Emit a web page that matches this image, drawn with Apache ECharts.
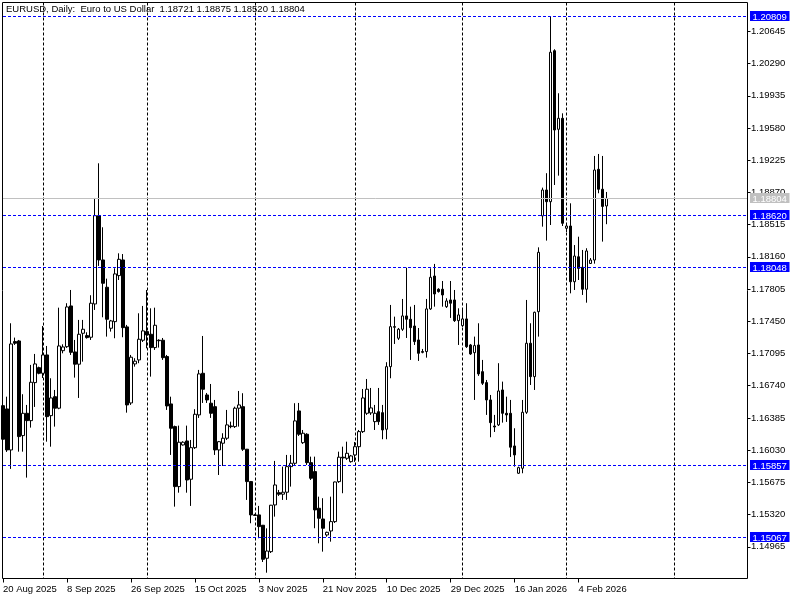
<!DOCTYPE html>
<html><head><meta charset="utf-8">
<script src="https://cdn.jsdelivr.net/npm/echarts@6/dist/echarts.min.js"></script>
<style>html,body{margin:0;padding:0;background:#fff;}#c{width:800px;height:600px;}</style>
</head><body><div id="c"></div>
<script>
const symbolTitle = 'EURUSD, Daily:  Euro to US Dollar';
const firstBarDate = '2025-08-20';
const futureBars = 35;

const opens = [1.16520,1.16484,1.16032,1.17226,1.17233,1.16190,1.16436,1.16355,1.16774,1.16939,
1.16877,1.17079,1.16410,1.16619,1.16492,1.17126,1.17170,1.17619,1.17112,1.16977,
1.17318,1.17292,1.17274,1.17641,1.18614,1.18126,1.17825,1.17373,1.17446,1.17953,
1.18126,1.17388,1.16550,1.16980,1.17024,1.17241,1.17336,1.17307,1.17160,1.17241,
1.17241,1.17061,1.16539,1.16289,1.15628,1.16087,1.16131,1.15709,1.16057,1.16418,
1.16877,1.16638,1.16547,1.16509,1.16032,1.16106,1.16161,1.16296,1.16289,1.16492,
1.16509,1.16040,1.15683,1.15316,1.15316,1.15202,1.14838,1.14911,1.15426,1.15561,
1.15544,1.15566,1.15848,1.15885,1.16462,1.16112,1.16205,1.15892,1.15793,1.15389,
1.15271,1.15095,1.15139,1.15242,1.15683,1.15952,1.15940,1.15903,1.15977,1.16068,
1.16234,1.16436,1.16440,1.16344,1.16454,1.16443,1.16260,1.16950,1.17391,1.17263,
1.17362,1.17509,1.17472,1.17398,1.17244,1.17116,1.17116,1.17586,1.17949,1.17803,
1.17803,1.17611,1.17685,1.17685,1.17457,1.17402,1.17476,1.17189,1.17104,1.17189,
1.16895,1.16774,1.16583,1.16296,1.16308,1.16693,1.16436,1.16436,1.16076,1.15775,
1.15830,1.16447,1.17208,1.16840,1.17556,1.18611,1.18897,1.18768,1.20432,1.19566,
1.19687,1.18475,1.18500,1.17886,1.18161,1.18045,1.17803,1.18087,1.18125,1.19125,
1.18905,1.18721];

const highs = [1.16610,1.16619,1.17428,1.17270,1.17244,1.16646,1.16528,1.16969,1.17090,1.16950,
1.17398,1.17178,1.16822,1.16693,1.17600,1.17196,1.17649,1.17795,1.17244,1.17465,
1.17465,1.17329,1.17737,1.18809,1.19191,1.18486,1.17920,1.17465,1.18034,1.18199,
1.18191,1.17410,1.17079,1.17043,1.17538,1.17619,1.17795,1.17593,1.17600,1.17252,
1.17266,1.17079,1.16619,1.16300,1.16300,1.16128,1.16300,1.16142,1.16481,1.16914,
1.17288,1.16660,1.16759,1.16583,1.16131,1.16216,1.16473,1.16344,1.16509,1.16682,
1.16657,1.16043,1.15690,1.15327,1.15415,1.15205,1.15168,1.15426,1.15911,1.15591,
1.15848,1.15977,1.15977,1.16547,1.16550,1.16252,1.16216,1.15958,1.15958,1.15517,
1.15500,1.15131,1.15517,1.15683,1.16013,1.16068,1.16123,1.15977,1.16120,1.16252,
1.16704,1.16814,1.16715,1.16528,1.16715,1.16528,1.16999,1.17630,1.17501,1.17376,
1.17696,1.18041,1.17611,1.17630,1.17376,1.17145,1.17696,1.18034,1.18082,1.17814,
1.17894,1.17704,1.17894,1.17795,1.17593,1.17593,1.17649,1.17200,1.17281,1.17428,
1.17024,1.16803,1.16638,1.16418,1.16988,1.16785,1.16619,1.16583,1.16271,1.15848,
1.16583,1.17685,1.17428,1.17556,1.18265,1.18923,1.19082,1.20809,1.20448,1.19963,
1.19742,1.18534,1.18750,1.18290,1.18382,1.18236,1.18255,1.18147,1.19272,1.19294,
1.19272,1.18875];

const lows = [1.16060,1.16010,1.15823,1.17189,1.16013,1.16013,1.15727,1.16278,1.16506,1.16866,
1.16825,1.16123,1.16068,1.16289,1.16481,1.17097,1.17156,1.17079,1.16829,1.16605,
1.17005,1.17259,1.17244,1.17575,1.18060,1.17494,1.17281,1.17336,1.17263,1.17905,
1.17274,1.16443,1.16528,1.16950,1.16988,1.17222,1.17152,1.16840,1.17134,1.17160,
1.17024,1.16473,1.15977,1.15407,1.15561,1.16080,1.15561,1.15415,1.16043,1.16385,
1.16550,1.16550,1.16385,1.15977,1.15756,1.15856,1.16142,1.16271,1.16274,1.16289,
1.16021,1.15481,1.15224,1.15305,1.15059,1.14797,1.14679,1.14896,1.15297,1.15525,
1.15481,1.15481,1.15628,1.15867,1.16186,1.16098,1.15867,1.15701,1.15169,1.15003,
1.14911,1.15076,1.15021,1.15227,1.15669,1.15555,1.15922,1.15892,1.15900,1.15903,
1.16219,1.16418,1.16418,1.16252,1.16308,1.16150,1.16150,1.16822,1.17200,1.17244,
1.17344,1.17266,1.17024,1.17189,1.17013,1.17097,1.17049,1.17575,1.17611,1.17766,
1.17611,1.17597,1.17487,1.17443,1.17189,1.17388,1.17156,1.17079,1.16583,1.16848,
1.16748,1.16418,1.16172,1.16230,1.16296,1.16333,1.16341,1.15955,1.15848,1.15767,
1.15775,1.16429,1.16748,1.16693,1.17281,1.18493,1.18339,1.18511,1.18952,1.19055,
1.18500,1.18434,1.17758,1.17795,1.17905,1.17740,1.17655,1.18081,1.18085,1.18861,
1.18328,1.18520];

const closes = [1.16150,1.16032,1.17200,1.17208,1.16179,1.16436,1.16355,1.16778,1.16980,1.16877,
1.17079,1.16399,1.16605,1.16492,1.17178,1.17167,1.17608,1.17108,1.16977,1.17307,
1.17362,1.17270,1.17649,1.18614,1.18126,1.17869,1.17472,1.17454,1.17972,1.18133,
1.17380,1.16528,1.17054,1.17010,1.17252,1.17344,1.17299,1.17160,1.17406,1.17236,
1.17049,1.16517,1.16271,1.15628,1.16117,1.16117,1.15701,1.16057,1.16425,1.16870,
1.16701,1.16583,1.16436,1.16032,1.16123,1.16161,1.16308,1.16289,1.16492,1.16528,
1.16040,1.15683,1.15316,1.15310,1.15187,1.14827,1.14918,1.15423,1.15646,1.15544,
1.15566,1.15848,1.15885,1.16352,1.16205,1.16216,1.15892,1.15720,1.15371,1.15279,
1.15169,1.15124,1.15242,1.15679,1.15952,1.15944,1.15995,1.15966,1.16068,1.16234,
1.16605,1.16701,1.16495,1.16436,1.16344,1.16252,1.16950,1.17391,1.17384,1.17362,
1.17509,1.17472,1.17380,1.17226,1.17097,1.17108,1.17586,1.17935,1.17751,1.17777,
1.17740,1.17674,1.17649,1.17457,1.17520,1.17476,1.17170,1.17090,1.17182,1.16870,
1.16767,1.16583,1.16333,1.16285,1.16682,1.16436,1.16418,1.16062,1.15977,1.15837,
1.16447,1.17208,1.16840,1.17549,1.18210,1.18897,1.18768,1.20415,1.19558,1.19687,
1.18530,1.18500,1.17886,1.18169,1.18033,1.17803,1.18225,1.18125,1.19117,1.18905,
1.18716,1.18804];

const priceTicks = [1.14965,1.15320,1.15675,1.16030,1.16385,1.16740,1.17095,1.17450,1.17805,
1.18160,1.18515,1.18870,1.19225,1.19580,1.19935,1.20290,1.20645];
const levelLines = [1.20809,1.18620,1.18048,1.15857,1.15067];
const priceMin = 1.146151;
const priceMax = 1.209633;

const MONTHS = ['Jan','Feb','Mar','Apr','May','Jun','Jul','Aug','Sep','Oct','Nov','Dec'];
const DAY = 86400000;
const barCount = opens.length;
const dateObjs = [];
(function(){
  let t = Date.parse(firstBarDate + 'T00:00:00Z');
  for (let i = 0; i < barCount + futureBars; i++) {
    if (i > 0) {
      t += DAY;
      if (i < barCount) { while (new Date(t).getUTCDay() === 6) t += DAY; }
    }
    dateObjs.push(new Date(t));
  }
})();
const categories = dateObjs.map(d => d.getUTCDate() + ' ' + MONTHS[d.getUTCMonth()] + ' ' + d.getUTCFullYear());
const isMonthStart = i => i > 0 && dateObjs[i].getUTCMonth() !== dateObjs[i-1].getUTCMonth();
const isLabelBar = i => i % 16 === 0 && i < barCount;

const ohlc = opens.map((o, i) => [o, closes[i], lows[i], highs[i]]);
const last = barCount - 1;
const fmt = v => Number(v).toFixed(5);
const titleText = symbolTitle + '  ' + [opens[last], highs[last], lows[last], closes[last]].map(fmt).join(' ');
const bidPrice = closes[last];
const FONT = '"Liberation Sans", Arial, sans-serif';
const lastCat = categories.length - 1;

// horizontal price levels: [x index, price, kind] (kind 0 = user level, 1 = bid line)
const levelData = levelLines.map(v => [0, v, 0]).concat([[0, bidPrice, 1]]);

function renderLevel(params, api) {
  const v = api.value(1);
  const kind = api.value(2);
  const p0 = api.coord([0, v]);
  const p1 = api.coord([lastCat, v]);
  const y = Math.round(p0[1] - 0.5) + 0.5;
  const col = kind === 1 ? '#c0c0c0' : '#0000ff';
  return {type: 'group', children: [
    {type: 'line', silent: true,
     shape: {x1: p0[0], y1: y, x2: p1[0] + 1, y2: y},
     style: {stroke: col, lineWidth: 1, lineDash: kind === 1 ? null : [3, 2]}},
    {type: 'rect', silent: true, z2: 10,
     shape: {x: p1[0] + 3.5, y: y - 5.5, width: 39.5, height: 10},
     style: {fill: col}},
    {type: 'text', silent: true, z2: 11, x: p1[0] + 6, y: y + 0.5,
     style: {text: fmt(v), fill: '#ffffff', font: '9.5px ' + FONT, verticalAlign: 'middle', align: 'left'}}
  ]};
}

const chart = echarts.init(document.getElementById('c'), null, {renderer: 'canvas'});
chart.setOption({
  animation: false,
  backgroundColor: '#ffffff',
  textStyle: {fontFamily: FONT},
  title: {text: titleText, left: 6, top: 4, padding: 0,
    textStyle: {fontSize: 9.5, fontWeight: 'normal', color: '#000', fontFamily: FONT}},
  grid: {left: 2.5, top: 2.5, width: 744, height: 576, show: false},
  xAxis: {
    type: 'category', data: categories, boundaryGap: false,
    axisLine: {show: false},
    axisTick: {show: true, length: 4, interval: (i) => isLabelBar(i), lineStyle: {color: '#000'}},
    axisLabel: {interval: (i) => isLabelBar(i), align: 'left', margin: 6, color: '#000', fontSize: 9.5, fontFamily: FONT},
    splitLine: {show: true, interval: (i) => isMonthStart(i), lineStyle: {color: '#000', width: 1, type: [3, 2]}}
  },
  yAxis: {
    type: 'value', position: 'right', offset: 1, min: priceMin, max: priceMax, scale: true,
    axisLine: {show: false},
    axisTick: {show: true, length: 3, customValues: priceTicks, lineStyle: {color: '#000'}},
    axisLabel: {customValues: priceTicks, formatter: v => fmt(v), margin: 3.5, padding: [2, 0, 0, 0],
      color: '#000', fontSize: 9.5, fontFamily: FONT},
    splitLine: {show: false}
  },
  graphic: [{type: 'rect', silent: true, z: 100,
    shape: {x: 2.5, y: 2.5, width: 745, height: 576},
    style: {fill: 'none', stroke: '#000', lineWidth: 1}}],
  series: [{
    type: 'candlestick', data: ohlc, barWidth: 3, clip: false,
    itemStyle: {color: '#ffffff', color0: '#000000', borderColor: '#000000', borderColor0: '#000000',
      borderColorDoji: '#000000', borderWidth: 1},
    emphasis: {disabled: true}
  }, {
    type: 'custom', data: levelData, renderItem: renderLevel, clip: false, silent: true, z: 5,
    encode: {x: 0, y: 1}
  }]
});
</script></body></html>
